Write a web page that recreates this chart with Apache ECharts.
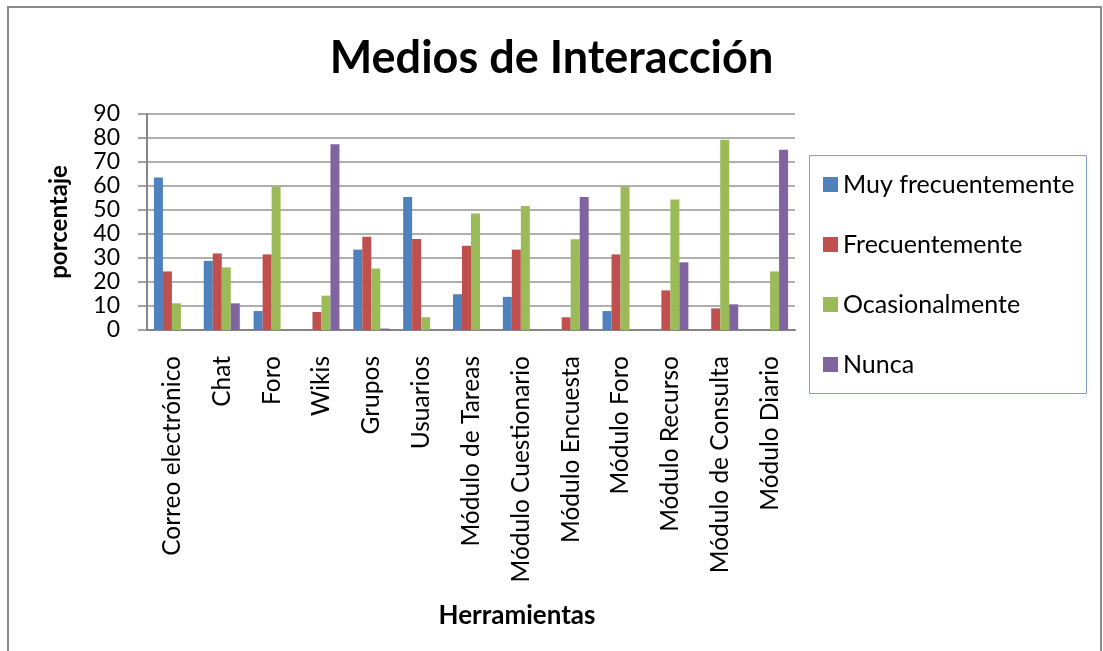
<!DOCTYPE html>
<html>
<head>
<meta charset="utf-8">
<title>Medios de Interacción</title>
<script src="https://cdn.jsdelivr.net/npm/echarts@6/dist/echarts.min.js"></script>
<style>
  html, body { margin: 0; padding: 0; background: #fff; }
  #chart { width: 1103px; height: 651px; }
</style>
</head>
<body>
<div id="chart"></div>
<script>
// Datos (porcentaje por herramienta)
var categorias = [
  "Correo electrónico", "Chat", "Foro", "Wikis", "Grupos", "Usuarios",
  "Módulo de Tareas", "Módulo Cuestionario", "Módulo Encuesta", "Módulo Foro",
  "Módulo Recurso", "Módulo de Consulta", "Módulo Diario"
];
var muyFrecuentemente = [63.5, 28.8, 7.9, 0, 33.5, 55.4, 14.9, 13.8, 0, 7.9, 0, 0, 0];
var frecuentemente = [24.4, 31.9, 31.5, 7.5, 38.9, 37.9, 35.1, 33.5, 5.3, 31.5, 16.5, 9.0, 0];
var ocasionalmente = [11.1, 26.1, 59.7, 14.3, 25.6, 5.3, 48.5, 51.7, 37.8, 59.7, 54.4, 79.3, 24.4];
var nunca = [0, 11.1, 0, 77.4, 0.6, 0, 0, 0, 55.4, 0, 28.2, 10.7, 75.1];
var ticksY = [0, 10, 20, 30, 40, 50, 60, 70, 80, 90];

var series = [
  { name: "Muy frecuentemente", data: muyFrecuentemente, color: "#4F81BD" },
  { name: "Frecuentemente", data: frecuentemente, color: "#C0504D" },
  { name: "Ocasionalmente", data: ocasionalmente, color: "#9BBB59" },
  { name: "Nunca", data: nunca, color: "#8064A2" }
];

var fuente = "Lato, 'Open Sans', sans-serif";
var chart = echarts.init(document.getElementById("chart"));

var option = {
  backgroundColor: "#fff",
  animation: false,
  textStyle: { fontFamily: fuente, color: "#000" },
  title: {
    text: "Medios de Interacción",
    left: "center",
    top: 31,
    textStyle: { fontFamily: fuente, fontSize: 45, fontWeight: "bold", color: "#000" }
  },
  // marco exterior y caja de la leyenda
  graphic: [
    {
      type: "rect",
      shape: { x: 8, y: 7, width: 1093, height: 660 },
      style: { fill: "none", stroke: "#8a8a8a", lineWidth: 2 },
      silent: true
    },
    {
      type: "rect",
      shape: { x: 809.5, y: 155.5, width: 277, height: 238 },
      style: { fill: "none", stroke: "#7c9fcf", lineWidth: 1 },
      silent: true
    }
  ],
  legend: {
    orient: "vertical",
    left: 809,
    top: 155,
    padding: [17, 14, 17, 14],
    itemWidth: 15,
    itemHeight: 15,
    itemGap: 35,
    icon: "rect",
    textStyle: { fontFamily: fuente, fontSize: 25, color: "#000" },
    data: series.map(function (s) { return s.name; })
  },
  grid: { left: 147, right: 308, top: 114, bottom: 321, containLabel: false },
  xAxis: {
    type: "category",
    data: categorias,
    name: "Herramientas",
    nameLocation: "middle",
    nameGap: 273,
    nameTextStyle: {
      fontFamily: fuente, fontSize: 26, fontWeight: "bold", color: "#000",
      padding: [0, 0, 0, 92]
    },
    axisLine: { show: true, lineStyle: { color: "#868686", width: 2 } },
    axisTick: { show: false },
    axisLabel: { rotate: 90, margin: 26, interval: 0, fontFamily: fuente, fontSize: 24.5, color: "#000" },
    splitLine: { show: false }
  },
  yAxis: {
    type: "value",
    min: ticksY[0],
    max: ticksY[ticksY.length - 1],
    interval: 10,
    name: "porcentaje",
    nameLocation: "middle",
    nameGap: 76,
    nameTextStyle: { fontFamily: fuente, fontSize: 24, fontWeight: "bold", color: "#000" },
    axisLine: { show: true, lineStyle: { color: "#868686", width: 2 } },
    axisTick: { show: true, length: 9, lineStyle: { color: "#868686", width: 1.5 } },
    axisLabel: { margin: 27, fontFamily: fuente, fontSize: 23, color: "#000" },
    splitLine: { show: true, lineStyle: { color: "#959595", width: 1.5 } }
  },
  series: series.map(function (s) {
    return {
      name: s.name,
      type: "bar",
      data: s.data,
      barWidth: 9,
      barGap: "0%",
      itemStyle: { color: s.color }
    };
  })
};

chart.setOption(option);
</script>
</body>
</html>
